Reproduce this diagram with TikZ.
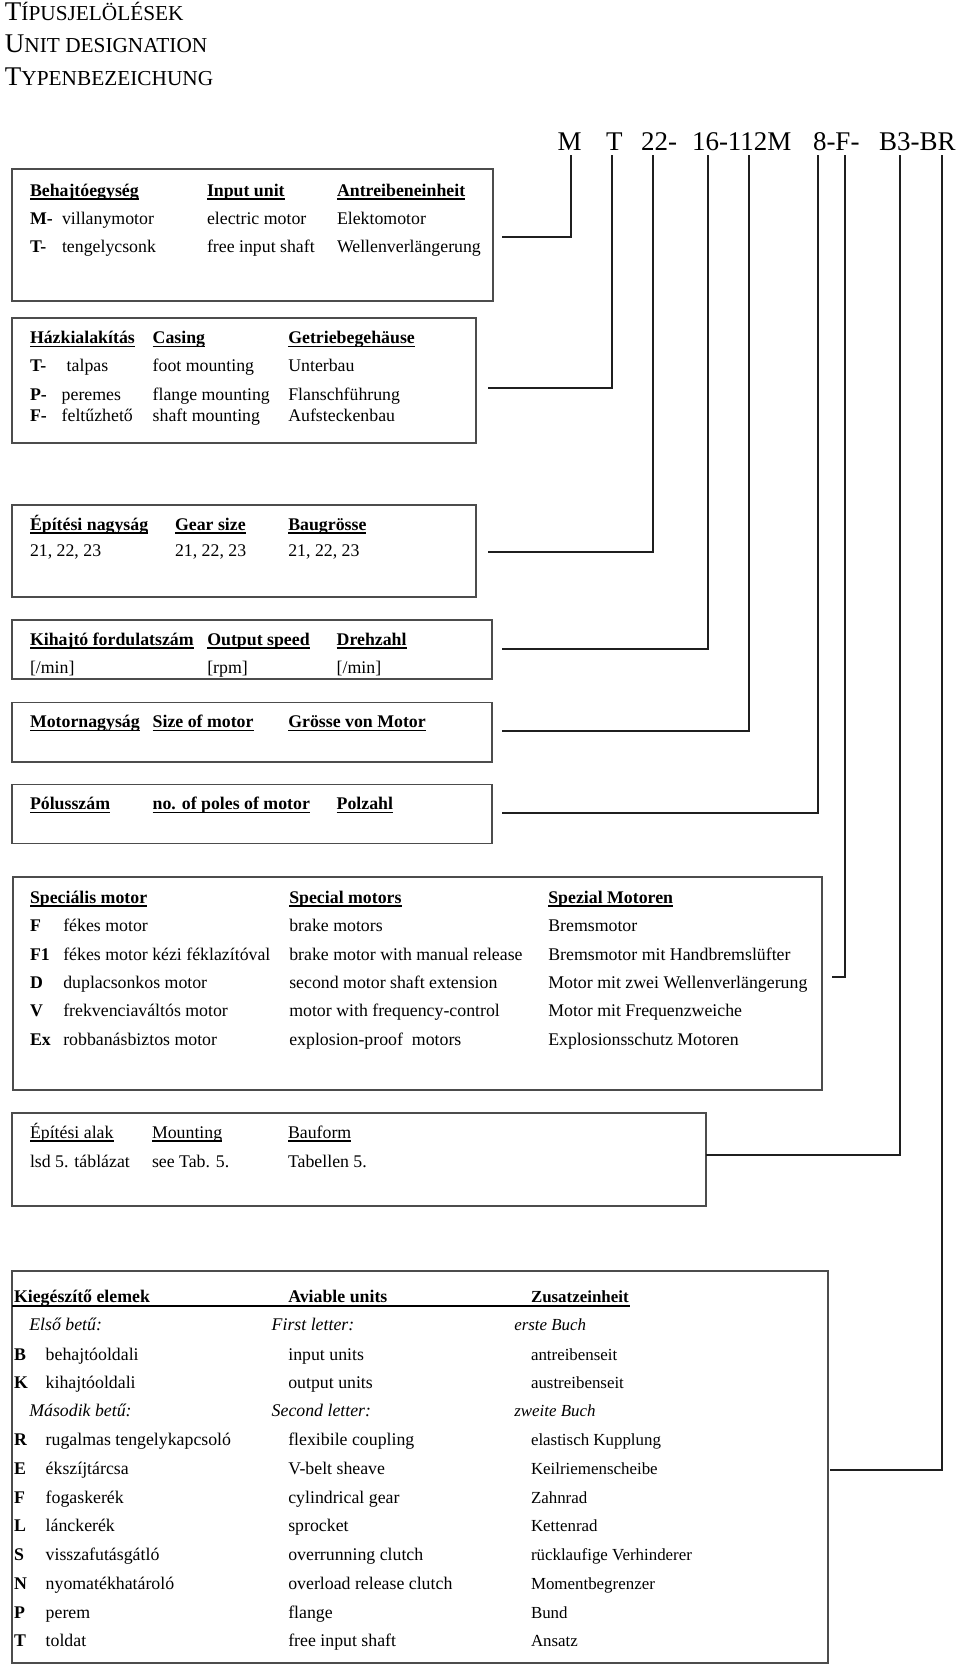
\documentclass[tikz,border=0pt]{standalone}
\usepackage{fontspec}
\setmainfont{Liberation Serif}
\newcommand{\myul}[1]{\setbox0=\hbox{#1}\rlap{\rule[-3.6pt]{\wd0}{1.2pt}}\box0}
\newcommand{\hd}[1]{\textbf{\myul{#1}}}
\newcommand{\hr}[1]{\myul{#1}}
\newcommand{\scbig}[2]{{\fontsize{27}{30}\selectfont #1}{\fontsize{21.3}{24}\selectfont #2}}
\begin{document}
\begin{tikzpicture}[x=1pt,y=-1pt,
  every node/.style={inner sep=0pt, outer sep=0pt, anchor=base west, font=\fontsize{17.8}{20}\selectfont},
  small/.style={font=\fontsize{16.9}{19}\selectfont},
  codetxt/.style={font=\fontsize{27}{30}\selectfont},
  box/.style={draw=black!70, line width=1.6pt, rectangle, anchor=north west},
  conn/.style={draw=black!88, line width=1.8pt},
  ulline/.style={draw=black, line width=1.2pt}]
\useasboundingbox (0,0) rectangle (960,1666);

% ---- title ----
\node (ti1) at (5,20.7) {\scbig{T}{ÍPUSJELÖLÉSEK}};
\node (ti2) at (5,52.7) {\scbig{U}{NIT DESIGNATION}};
\node (ti3) at (5,85.7) {\scbig{T}{YPENBEZEICHUNG}};

% ---- code line ----
\node[codetxt] (kM)  at (557.7,150.7) {M};
\node[codetxt] (kT)  at (606,150.7) {T};
\node[codetxt] (k22) at (641,150.7) {22-};
\node[codetxt] (k16) at (692,150.7) {16-112M};
\node[codetxt] (k8)  at (813,150.7) {8-F-};
\node[codetxt] (kB)  at (879,150.7) {B3-BR};

% ---- boxes ----
\node[box, minimum width=481pt, minimum height=132pt] (b1) at (12,169) {};
\node[box, minimum width=464pt, minimum height=125pt] (b2) at (12,318) {};
\node[box, minimum width=464pt, minimum height=92pt]  (b3) at (12,505) {};
\node[box, minimum width=480pt, minimum height=59pt]  (b4) at (12,620) {};
\node[box, minimum width=480pt, minimum height=59.5pt](b5) at (12,702.3) {};
\node[box, minimum width=480pt, minimum height=59pt]  (b6) at (12,784.3) {};
\node[box, minimum width=809pt, minimum height=213pt] (b7) at (13,877) {};
\node[box, minimum width=694pt, minimum height=93pt]  (b8) at (12,1113) {};
\node[box, minimum width=816pt, minimum height=392pt] (b9) at (12,1271) {};

% ---- connectors ----
\coordinate (c1) at (571,155);   \coordinate (e1) at (502,237.3);
\coordinate (c2) at (612,155);   \coordinate (e2) at (488,388.3);
\coordinate (c3) at (653,155);   \coordinate (e3) at (488,552.3);
\coordinate (c4) at (708,155);   \coordinate (e4) at (502,648.7);
\coordinate (c5) at (749,155);   \coordinate (e5) at (502,731);
\coordinate (c6) at (818,155);   \coordinate (e6) at (502,813.3);
\coordinate (c7) at (845,155);   \coordinate (e7) at (832,977);
\coordinate (c8) at (900,155);   \coordinate (e8) at (706,1155);
\coordinate (c9) at (942,155);   \coordinate (e9) at (830,1470);
\foreach \i in {1,...,9} { \draw[conn] (c\i) |- (e\i); }

% ---- box 1 ----
\node (a1) at (30,196) {\hd{Behajtóegység}};
\node (a2) at (207,196) {\hd{Input unit}};
\node (a3) at (337,196) {\hd{Antreibeneinheit}};
\node (a4) at (30,224) {\textbf{M-}};
\node (a5) at (62,224) {villanymotor};
\node (a6) at (207,224) {electric motor};
\node (a7) at (337,224) {Elektomotor};
\node (a8) at (30,252) {\textbf{T-}};
\node (a9) at (62,252) {tengelycsonk};
\node (a10) at (207,252) {free input shaft};
\node (a11) at (337,252) {Wellenverlängerung};

% ---- box 2 ----
\node (h1) at (30,343.3) {\hd{Házkialakítás}};
\node (h2) at (152.7,343.3) {\hd{Casing}};
\node (h3) at (288.3,343.3) {\hd{Getriebegehäuse}};
\node (h4) at (30,371.7) {\textbf{T-}};
\node (h5) at (66.7,371.7) {talpas};
\node (h6) at (152.7,371.7) {foot mounting};
\node (h7) at (288.3,371.7) {Unterbau};
\node (h8) at (30,400) {\textbf{P-}};
\node (h9) at (61.7,400) {peremes};
\node (h10) at (152.7,400) {flange mounting};
\node (h11) at (288.3,400) {Flanschführung};
\node (h12) at (30,421.7) {\textbf{F-}};
\node (h13) at (61.7,421.7) {feltűzhető};
\node (h14) at (152.7,421.7) {shaft mounting};
\node (h15) at (288.3,421.7) {Aufsteckenbau};

% ---- box 3 ----
\node (g1) at (30,530) {\hd{Építési nagyság}};
\node (g2) at (175,530) {\hd{Gear size}};
\node (g3) at (288.3,530) {\hd{Baugrösse}};
\node (g4) at (30,556.7) {21, 22, 23};
\node (g5) at (175,556.7) {21, 22, 23};
\node (g6) at (288.3,556.7) {21, 22, 23};

% ---- box 4 ----
\node (o1) at (30,645) {\hd{Kihajtó fordulatszám}};
\node (o2) at (207.3,645) {\hd{Output speed}};
\node (o3) at (336.7,645) {\hd{Drehzahl}};
\node (o4) at (30,673.3) {[/min]};
\node (o5) at (207.3,673.3) {[rpm]};
\node (o6) at (336.7,673.3) {[/min]};

% ---- box 5 ----
\node (m1) at (30,727.3) {\hd{Motornagyság}};
\node (m2) at (152.7,727.3) {\hd{Size of motor}};
\node (m3) at (288.3,727.3) {\hd{Grösse von Motor}};

% ---- box 6 ----
\node (p1) at (30,809.3) {\hd{Pólusszám}};
\node (p2) at (152.7,809.3) {\hd{no. of poles of motor}};
\node (p3) at (336.7,809.3) {\hd{Polzahl}};

% ---- box 7 ----
\node (s1) at (30,903) {\hd{Speciális motor}};
\node (s2) at (289.3,903) {\hd{Special motors}};
\node (s3) at (548.3,903) {\hd{Spezial Motoren}};
\node (s4) at (30,931.7) {\textbf{F}};
\node (s5) at (63.3,931.7) {fékes motor};
\node (s6) at (289.3,931.7) {brake motors};
\node (s7) at (548.3,931.7) {Bremsmotor};
\node (s8) at (30,960) {\textbf{F1}};
\node (s9) at (63.3,960) {fékes motor kézi féklazítóval};
\node (s10) at (289.3,960) {brake motor with manual release};
\node (s11) at (548.3,960) {Bremsmotor mit Handbremslüfter};
\node (s12) at (30,988.3) {\textbf{D}};
\node (s13) at (63.3,988.3) {duplacsonkos motor};
\node (s14) at (289.3,988.3) {second motor shaft extension};
\node (s15) at (548.3,988.3) {Motor mit zwei Wellenverlängerung};
\node (s16) at (30,1016.7) {\textbf{V}};
\node (s17) at (63.3,1016.7) {frekvenciaváltós motor};
\node (s18) at (289.3,1016.7) {motor with frequency-control};
\node (s19) at (548.3,1016.7) {Motor mit Frequenzweiche};
\node (s20) at (30,1045) {\textbf{Ex}};
\node (s21) at (63.3,1045) {robbanásbiztos motor};
\node (s22) at (289.3,1045) {explosion-proof\ \ motors};
\node (s23) at (548.3,1045) {Explosionsschutz Motoren};

% ---- box 8 ----
\node (f1) at (30,1138) {\hr{Építési alak}};
\node (f2) at (152,1138) {\hr{Mounting}};
\node (f3) at (288,1138) {\hr{Bauform}};
\node (f4) at (30,1167) {lsd 5. táblázat};
\node (f5) at (152,1167) {see Tab. 5.};
\node (f6) at (288,1167) {Tabellen 5.};

% ---- box 9 ----
\draw[ulline] (b9.west |- 0,1306) -- (630,1306);
\node (z1) at (14,1302.7) {\textbf{Kiegészítő elemek}};
\node (z2) at (288.3,1302.7) {\textbf{Aviable units}};
\node[small] (z3) at (531,1302.7) {\textbf{Zusatzeinheit}};
\node (z4) at (29.3,1330.7) {\textit{Első betű:}};
\node (z5) at (271.7,1330.7) {\textit{First letter:}};
\node[small] (z6) at (514.3,1330.7) {\textit{erste Buch}};
\node (z7) at (14,1360) {\textbf{B}};
\node (z8) at (45.7,1360) {behajtóoldali};
\node (z9) at (288.3,1360) {input units};
\node[small] (z10) at (531,1360) {antreibenseit};
\node (z11) at (14,1388.3) {\textbf{K}};
\node (z12) at (45.7,1388.3) {kihajtóoldali};
\node (z13) at (288.3,1388.3) {output units};
\node[small] (z14) at (531,1388.3) {austreibenseit};
\node (z15) at (29.3,1416.7) {\textit{Második betű:}};
\node (z16) at (271.7,1416.7) {\textit{Second letter:}};
\node[small] (z17) at (514.3,1416.7) {\textit{zweite Buch}};
\node (z18) at (14,1445.7) {\textbf{R}};
\node (z19) at (45.7,1445.7) {rugalmas tengelykapcsoló};
\node (z20) at (288.3,1445.7) {flexibile coupling};
\node[small] (z21) at (531,1445.7) {elastisch Kupplung};
\node (z22) at (14,1474.3) {\textbf{E}};
\node (z23) at (45.7,1474.3) {ékszíjtárcsa};
\node (z24) at (288.3,1474.3) {V-belt sheave};
\node[small] (z25) at (531,1474.3) {Keilriemenscheibe};
\node (z26) at (14,1503.3) {\textbf{F}};
\node (z27) at (45.7,1503.3) {fogaskerék};
\node (z28) at (288.3,1503.3) {cylindrical gear};
\node[small] (z29) at (531,1503.3) {Zahnrad};
\node (z30) at (14,1531.7) {\textbf{L}};
\node (z31) at (45.7,1531.7) {lánckerék};
\node (z32) at (288.3,1531.7) {sprocket};
\node[small] (z33) at (531,1531.7) {Kettenrad};
\node (z34) at (14,1560) {\textbf{S}};
\node (z35) at (45.7,1560) {visszafutásgátló};
\node (z36) at (288.3,1560) {overrunning clutch};
\node[small] (z37) at (531,1560) {rücklaufige Verhinderer};
\node (z38) at (14,1589.3) {\textbf{N}};
\node (z39) at (45.7,1589.3) {nyomatékhatároló};
\node (z40) at (288.3,1589.3) {overload release clutch};
\node[small] (z41) at (531,1589.3) {Momentbegrenzer};
\node (z42) at (14,1618.3) {\textbf{P}};
\node (z43) at (45.7,1618.3) {perem};
\node (z44) at (288.3,1618.3) {flange};
\node[small] (z45) at (531,1618.3) {Bund};
\node (z46) at (14,1646.7) {\textbf{T}};
\node (z47) at (45.7,1646.7) {toldat};
\node (z48) at (288.3,1646.7) {free input shaft};
\node[small] (z49) at (531,1646.7) {Ansatz};
\end{tikzpicture}
\end{document}
